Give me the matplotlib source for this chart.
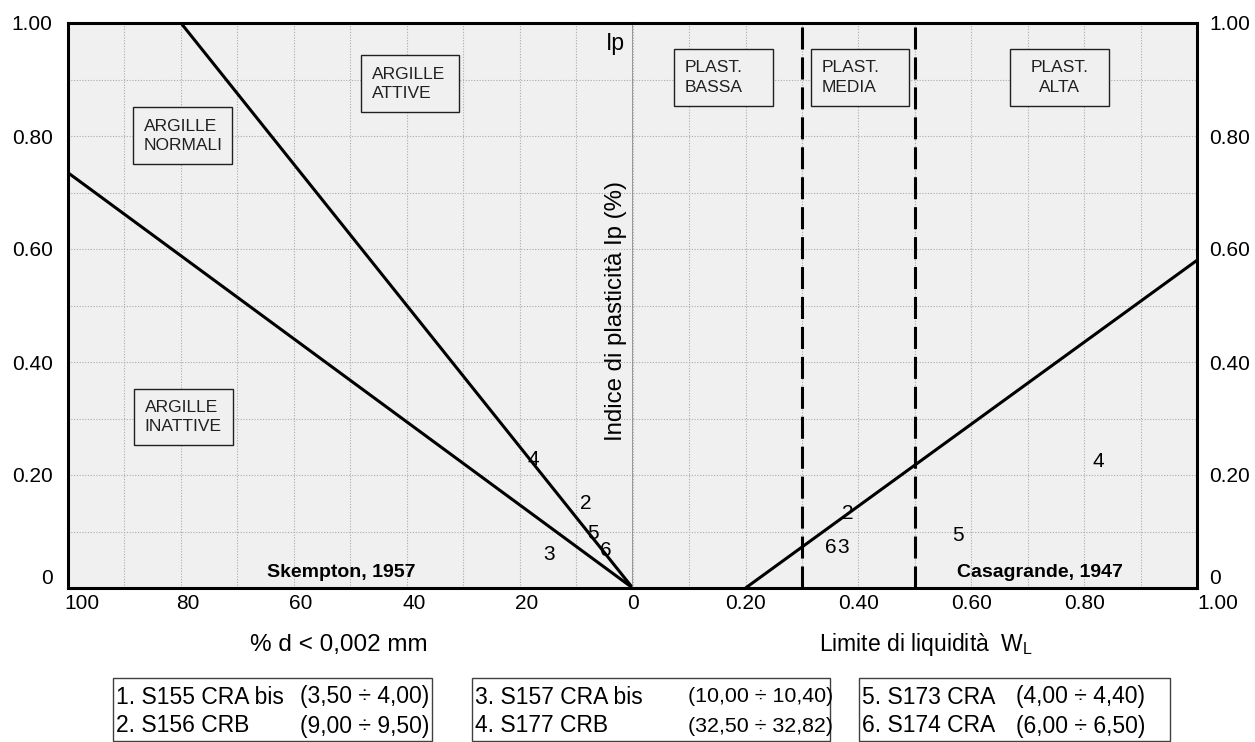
import matplotlib
matplotlib.use('Agg')
import matplotlib.pyplot as plt
import matplotlib.patches as patches
import matplotlib.transforms as mtransforms

plt.rcParams['font.family'] = ['Liberation Sans', 'DejaVu Sans']
plt.rcParams['mathtext.fontset'] = 'custom'
plt.rcParams['mathtext.rm'] = 'Liberation Sans'

# ---------------------------------------------------------
# dati
# ---------------------------------------------------------
# Skempton (1957): rette di attivita' (% d < 0,002 mm vs Ip)
SKEMPTON_CF = [[100, 0], [80, 0]]
SKEMPTON_IP = [[0.735, 0.0], [1.00, 0.0]]

# Casagrande (1947): linea A e limiti di plasticita'
A_LINE_WL = [0.20, 1.00]
A_LINE_IP = [0.00, 0.58]
WL_LIMITS = [0.30, 0.50]

# campioni (etichette numeriche)
PT_LABELS = ['2', '3', '4', '5', '6']
PT_CF = [8.3, 14.8, 17.6, 7.0, 4.8]
PT_IP_LEFT = [0.150, 0.060, 0.227, 0.096, 0.067]
PT_WL = [0.381, 0.373, 0.826, 0.577, 0.351]
PT_IP_RIGHT = [0.131, 0.072, 0.224, 0.093, 0.072]

# legenda
LEG_NUM = ['1.', '2.', '3.', '4.', '5.', '6.']
LEG_SAMPLE = ['S155 CRA bis', 'S156 CRB', 'S157 CRA bis', 'S177 CRB', 'S173 CRA', 'S174 CRA']
LEG_DEPTH = ['(3,50 ÷ 4,00)', '(9,00 ÷ 9,50)', '(10,00 ÷ 10,40)',
             '(32,50 ÷ 32,82)', '(4,00 ÷ 4,40)', '(6,00 ÷ 6,50)']

LEFT_REGIONS = ['ARGILLE\nNORMALI', 'ARGILLE\nATTIVE', 'ARGILLE\nINATTIVE']
RIGHT_REGIONS = ['PLAST.\nBASSA', 'PLAST.\nMEDIA', 'PLAST.\nALTA']

CF_TICKS = [100, 80, 60, 40, 20, 0]
WL_TICKS = [0.20, 0.40, 0.60, 0.80, 1.00]
IP_TICKS = [0, 0.2, 0.4, 0.6, 0.8, 1.0]
IP_TICKLABELS = ['0', '0.20', '0.40', '0.60', '0.80', '1.00']

# ---------------------------------------------------------
# layout
# ---------------------------------------------------------
W, H = 1255, 742
BG = '#f0f0f0'
LW = 2.2

fig = plt.figure(figsize=(W / 100, H / 100), dpi=100)
ax_l = fig.add_axes([68 / W, 1 - 588 / H, 564.7 / W, 565 / H])
ax_r = fig.add_axes([632.7 / W, 1 - 588 / H, 564.3 / W, 565 / H])

for ax in (ax_l, ax_r):
    ax.set_facecolor(BG)
    ax.set_ylim(0, 1)
    ax.set_yticks([i / 10 for i in range(11)], minor=True)
    ax.set_yticks(IP_TICKS)
    ax.grid(True, which='both', color='#ababab', linestyle=(0, (1, 1.5)), linewidth=0.8)
    ax.set_axisbelow(True)
    ax.tick_params(which='both', length=0, labelsize=15)
    for s in ax.spines.values():
        s.set_linewidth(2.2)
        s.set_color('black')

ax_l.set_xlim(100, 0)
ax_l.set_xticks(range(0, 101, 10), minor=True)
ax_l.set_xticks(CF_TICKS)
ax_l.set_xticklabels([str(v) for v in CF_TICKS])
ax_l.set_yticklabels(IP_TICKLABELS)
ax_l.tick_params(axis='y', pad=11)
ax_l.tick_params(axis='x', pad=4)
ax_l.spines['right'].set_color('#808080')
ax_l.spines['right'].set_linewidth(1.1)

ax_r.set_xlim(0, 1)
ax_r.set_xticks([i / 10 for i in range(11)], minor=True)
ax_r.set_xticks(WL_TICKS)
ax_r.set_xticklabels([f'{v:.2f}' for v in WL_TICKS])
ax_r.yaxis.tick_right()
ax_r.set_yticklabels(IP_TICKLABELS)
ax_r.tick_params(axis='y', pad=9)
ax_r.tick_params(axis='x', pad=4)
ax_r.spines['left'].set_visible(False)

# linee Skempton
for cf, ip in zip(SKEMPTON_CF, SKEMPTON_IP):
    ax_l.plot(cf, ip, color='black', lw=LW, solid_capstyle='butt')

# linea A e limiti
ax_r.plot(A_LINE_WL, A_LINE_IP, color='black', lw=LW, solid_capstyle='butt')
for wl in WL_LIMITS:
    ax_r.plot([wl, wl], [0, 1], color='black', lw=LW, dashes=(7.2, 2.6))

# etichette campioni
for lab, cf, ip in zip(PT_LABELS, PT_CF, PT_IP_LEFT):
    ax_l.text(cf, ip, lab, ha='center', va='center', fontsize=15, zorder=5)
for lab, wl, ip in zip(PT_LABELS, PT_WL, PT_IP_RIGHT):
    ax_r.text(wl, ip, lab, ha='center', va='center', fontsize=15, zorder=5)

# riquadri zone (x0, x1, y0, y1, allineamento)
left_boxes = [(88.5, 70.9, 0.750, 0.851, 'left'),
              (48.1, 30.8, 0.842, 0.943, 'left'),
              (88.3, 70.8, 0.253, 0.352, 'left')]
right_boxes = [(0.073, 0.248, 0.853, 0.954, 'left'),
               (0.316, 0.489, 0.853, 0.954, 'left'),
               (0.668, 0.844, 0.853, 0.954, 'center')]


def draw_box(ax, txt, x0, x1, y0, y1, align, inset):
    ax.add_patch(patches.Rectangle((min(x0, x1), y0), abs(x1 - x0), y1 - y0,
                                   facecolor=BG, edgecolor='#202020', lw=1.0, zorder=3))
    if align == 'center':
        tx = (x0 + x1) / 2
    else:
        tx = x0 + inset
    ax.text(tx, (y0 + y1) / 2, txt, ha=align, va='center', fontsize=12.5,
            multialignment=align, linespacing=1.35, color='#202020', zorder=4)


for txt, b in zip(LEFT_REGIONS, left_boxes):
    draw_box(ax_l, txt, *b, inset=-1.9)
for txt, b in zip(RIGHT_REGIONS, right_boxes):
    draw_box(ax_r, txt, *b, inset=0.019)

ax_l.text(51.7, 0.027, 'Skempton, 1957', ha='center', va='center', fontsize=14, fontweight='bold')
ax_r.text(0.722, 0.027, 'Casagrande, 1947', ha='center', va='center', fontsize=14, fontweight='bold')

# titoli assi
ax_l.text(3.0, 0.963, 'Ip', ha='center', va='center', fontsize=16.5)
ax_l.text(3.0, 0.49, 'Indice di plasticità Ip (%)', rotation=90, ha='center', va='center', fontsize=17.3)
fig.text(339 / W, 1 - 645 / H, '% d < 0,002 mm', ha='center', va='center', fontsize=17.5)
fig.text(926 / W, 1 - 645 / H, r'Limite di liquidità  W$\mathregular{_L}$', ha='center', va='center', fontsize=16.5)

# legenda
leg_boxes = [(113, 432, 300, 16.5), (472, 830, 688, 15.4), (859, 1170, 1016, 16.5)]
for i, (bx0, bx1, col2, fs2) in enumerate(leg_boxes):
    fig.add_artist(patches.Rectangle((bx0 / W, 1 / H), (bx1 - bx0) / W, (741 - 678) / H,
                                     transform=fig.transFigure, facecolor='white',
                                     edgecolor='#404040', lw=1.0))
    for j, yy in enumerate([697, 726]):
        k = 2 * i + j
        fig.text((bx0 + 3) / W, 1 - yy / H, f'{LEG_NUM[k]} {LEG_SAMPLE[k]}',
                 ha='left', va='center', fontsize=16.5)
        fig.text(col2 / W, 1 - yy / H, LEG_DEPTH[k], ha='left', va='center', fontsize=fs2)

# piccoli spostamenti delle etichette come nell'originale
fig.canvas.draw()


def shift(label, dx, dy):
    label.set_transform(label.get_transform() +
                        mtransforms.ScaledTranslation(dx / 100, dy / 100, fig.dpi_scale_trans))


for lab in ax_l.get_xticklabels():
    t = lab.get_text()
    if t == '100':
        shift(lab, 14, 0)
    elif t != '0':
        shift(lab, 7, 0)
for lab in ax_r.get_xticklabels():
    if lab.get_text() == '1.00':
        shift(lab, 21, 0)
for ax in (ax_l, ax_r):
    for lab in ax.get_yticklabels():
        if lab.get_text() == '0':
            shift(lab, 0, 12)

fig.savefig('out.png', dpi=100, facecolor='white')
